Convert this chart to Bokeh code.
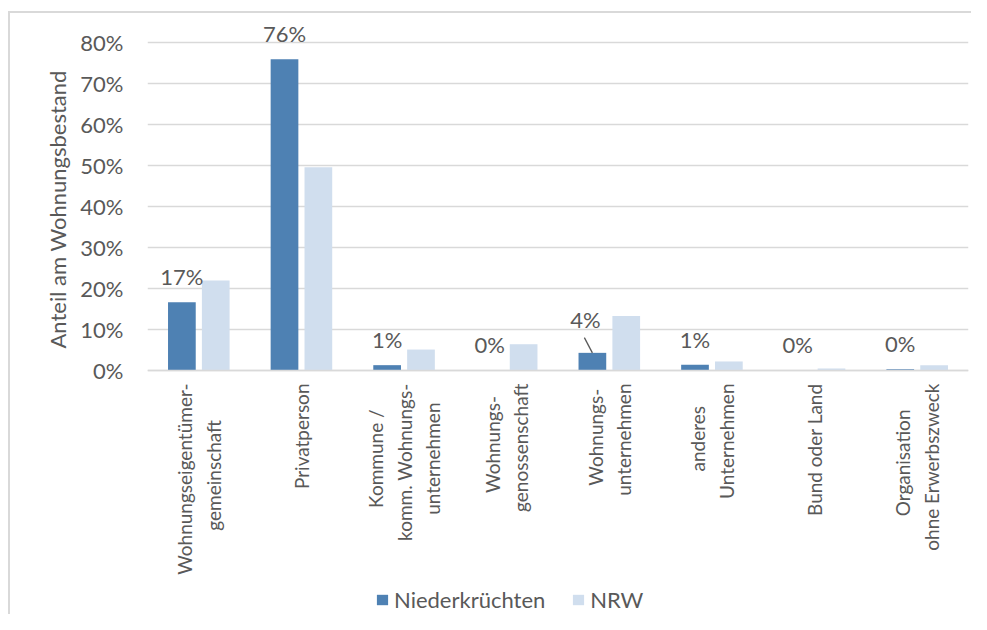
import math
from bokeh.plotting import figure
from bokeh.models import (ColumnDataSource, FactorRange, Range1d, FixedTicker,
                          NumeralTickFormatter, LabelSet, Legend, LegendItem,
                          Title, Span)
from bokeh.core.properties import value
from bokeh.transform import dodge
from bokeh.embed import file_html
from bokeh.resources import INLINE

# ---- data ----
categories = [
    "Wohnungseigentümer-\ngemeinschaft",
    "Privatperson",
    "Kommune /\nkomm. Wohnungs-\nunternehmen",
    "Wohnungs-\ngenossenschaft",
    "Wohnungs-\nunternehmen",
    "anderes\nUnternehmen",
    "Bund oder Land",
    "Organisation\nohne Erwerbszweck",
]
niederkruechten = [0.166, 0.758, 0.013, 0.001, 0.043, 0.014, 0.001, 0.003]
nrw = [0.219, 0.495, 0.051, 0.064, 0.133, 0.022, 0.005, 0.013]
series_names = ["Niederkrüchten", "NRW"]
y_ticks = [0.0, 0.1, 0.2, 0.3, 0.4, 0.5, 0.6, 0.7, 0.8]
y_label = "Anteil am Wohnungsbestand"

# ---- style / layout ----
FONT = "Lato"
TXT = "#595959"
DARK = "#4e81b3"
LIGHT = "#d0deee"
GRID = "#d9d9d9"

TOP, ZERO, BOTTOM = 21, 370, 614          # pixel rows of frame top, 0 % line, frame bottom
Y_MAX = 0.85
px_per_unit = (ZERO - TOP) / Y_MAX
y_min = -(BOTTOM - ZERO) / px_per_unit    # room below 0 for category labels + legend

CAT_FONT_PX = 19
CAT_STANDOFF = 13
LINE_STEP = 28.5

# rough advance widths of the label font (em) to centre shorter lines
_W = {"W": 0.98, "o": 0.54, "h": 0.53, "n": 0.53, "u": 0.53, "g": 0.49, "s": 0.41,
      "e": 0.50, "i": 0.23, "t": 0.34, "ü": 0.53, "m": 0.80, "r": 0.36, "-": 0.34,
      "a": 0.48, "f": 0.31, "P": 0.59, "v": 0.49, "p": 0.54, "K": 0.63, "/": 0.36,
      "k": 0.49, ".": 0.21, "U": 0.69, "d": 0.54, "b": 0.54, "L": 0.48, "B": 0.63,
      "O": 0.76, "w": 0.74, "z": 0.44, "c": 0.44, "E": 0.55, " ": 0.19}


def text_px(s):
    return sum(_W.get(ch, 0.5) for ch in s) * CAT_FONT_PX


labels = ["{:.0f}%".format(v * 100) for v in niederkruechten]
label_dx = [0, 0, 0, 0, -7, 0, 0, 0]
label_dy = [17, 17, 17, 17, 25, 17, 17, 17]

src = ColumnDataSource(dict(cat=categories, a=niederkruechten, b=nrw,
                            lab=labels, dx=label_dx, dy=label_dy))

# split the category labels into lines: the longest line hangs from the
# baseline, the other lines are centred on it
long_rows = dict(cat=[], txt=[], zero=[], dx=[], dy=[])
short_rows = dict(cat=[], txt=[], zero=[], dx=[], dy=[])
for c in categories:
    lines = c.split("\n")
    n = len(lines)
    longest = max(lines, key=text_px)
    half = text_px(longest) / 2
    for j, ln in enumerate(lines):
        dx = (j - (n - 1) / 2) * LINE_STEP
        rows = long_rows if ln == longest else short_rows
        rows["cat"].append(c)
        rows["txt"].append(ln)
        rows["zero"].append(0)
        rows["dx"].append(dx)
        rows["dy"].append(-CAT_STANDOFF if ln == longest else -(CAT_STANDOFF + half))
        if ln == longest:
            longest = None

p = figure(x_range=FactorRange(*categories), y_range=Range1d(y_min, Y_MAX),
           frame_width=821, frame_height=BOTTOM - TOP,
           output_backend="svg", toolbar_location=None,
           min_border_left=147, min_border_right=3, min_border_top=TOP,
           min_border_bottom=0)
p.outline_line_color = None
p.background_fill_color = "white"
p.border_fill_color = None
p.styles = {
    "background": "linear-gradient(#d9d9d9,#d9d9d9) 8px 11px / 100% 2px no-repeat, "
                  "linear-gradient(#d9d9d9,#d9d9d9) 8px 11px / 2px 100% no-repeat, white"
}

off = 0.165
bw = 0.27
r1 = p.vbar(x=dodge("cat", -off, range=p.x_range), top="a", width=bw,
            source=src, color=DARK, line_color=None)
r2 = p.vbar(x=dodge("cat", off, range=p.x_range), top="b", width=bw,
            source=src, color=LIGHT, line_color=None)

# leader line for the 4% label
lead = ColumnDataSource(dict(cat=[categories[4]], v=[niederkruechten[4]],
                             v2=[niederkruechten[4] + 0.037]))
p.segment(x0=dodge("cat", -off - 0.078, range=p.x_range), y0="v2",
          x1=dodge("cat", -off, range=p.x_range), y1="v",
          source=lead, line_color=TXT, line_width=1.3)

# data labels
ls = LabelSet(x=dodge("cat", -off, range=p.x_range), y="a", text="lab",
              x_offset="dx", y_offset="dy", source=src, text_align="center",
              text_baseline="alphabetic", text_font=value(FONT),
              text_font_size="22px", text_color=TXT)
p.add_layout(ls)

# category labels (rotated, hanging below the 0 % line)
for rows, align in ((long_rows, "right"), (short_rows, "center")):
    cl = LabelSet(x="cat", y="zero", text="txt", source=ColumnDataSource(rows),
                  x_offset="dx", y_offset="dy", angle=math.pi / 2,
                  text_align=align, text_baseline="middle",
                  text_font=value(FONT), text_font_size=f"{CAT_FONT_PX}px",
                  text_color=TXT)
    p.add_layout(cl)

# baseline
p.add_layout(Span(location=0, dimension="width", line_color=GRID, line_width=1.5))

# y axis
p.yaxis.ticker = FixedTicker(ticks=y_ticks)
p.yaxis.formatter = NumeralTickFormatter(format="0%")
p.yaxis.axis_line_color = None
p.yaxis.major_tick_line_color = None
p.yaxis.minor_tick_line_color = None
p.yaxis.major_label_standoff = 18
p.yaxis.major_label_text_font = FONT
p.yaxis.major_label_text_font_size = "22px"
p.yaxis.major_label_text_color = TXT

# y axis title, starting just above the 0 % line
ytitle = Title(text=y_label, align="left", offset=22 + (BOTTOM - ZERO), standoff=14,
               text_font=FONT, text_font_size="22px",
               text_font_style="normal", text_color=TXT)
p.add_layout(ytitle, "left")

p.xaxis.visible = False
p.xgrid.grid_line_color = None
p.ygrid.grid_line_color = GRID
p.ygrid.grid_line_width = 1.3
p.x_range.range_padding = 0
p.x_range.group_padding = 0

# legend
legend = Legend(items=[LegendItem(label=series_names[0], renderers=[r1]),
                       LegendItem(label=series_names[1], renderers=[r2])],
                orientation="horizontal", location=(228, 1),
                border_line_color=None, background_fill_alpha=0,
                padding=0, margin=0, spacing=26,
                glyph_width=14, glyph_height=13, label_standoff=5,
                label_text_font=FONT, label_text_font_size="22px",
                label_text_color=TXT)
p.add_layout(legend, "center")

open("out.html", "w").write(file_html(p, INLINE))
